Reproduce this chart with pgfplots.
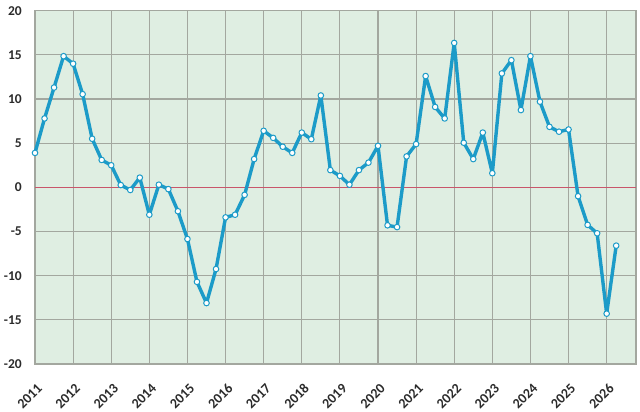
\documentclass[border=0pt]{standalone}
\usepackage{pgfplots}
\pgfplotsset{compat=1.18}
\usepackage{fontspec}
\setmainfont{Carlito}

\definecolor{bgGreen}{HTML}{DFEEE2}
\definecolor{gridGray}{HTML}{A3A79F}
\definecolor{lineBlue}{HTML}{1C9BC8}
\definecolor{zeroRed}{HTML}{C9566B}
\definecolor{labelGray}{HTML}{2B2B2B}

\begin{document}
\begin{tikzpicture}[x=1pt,y=1pt]
\useasboundingbox (0,0) rectangle (640,412);
\begin{axis}[
    at={(35pt,48pt)}, anchor=south west,
    scale only axis,
    width=601pt, height=353.3pt,
    xmin=2011, xmax=2026.77,
    ymin=-20, ymax=20,
    xtick={2011,2012,...,2026},
    ytick={-20,-15,...,20},
    xticklabel style={/pgf/number format/1000 sep={}, rotate=45, anchor=north east,
        font=\fontsize{14}{16}\selectfont\bfseries, text=labelGray, inner sep=0pt, xshift=-12pt, yshift=-14pt},
    yticklabel style={font=\fontsize{13.5}{15}\selectfont\bfseries, text=labelGray, inner sep=0pt, xshift=-13pt},
    /pgf/number format/assume math mode=true,
    major tick length=0pt,
    grid=major,
    grid style={gridGray, line width=1.1pt},
    axis line style={gridGray, line width=1.1pt},
    axis background/.style={fill=bgGreen},
    clip=false,
]
\draw[zeroRed, line width=0.8pt] (axis cs:2011,0) -- (axis cs:2026.77,0);
\addplot[lineBlue, line width=3.4pt, line join=round,
    mark=*, mark size=2.8pt, mark options={fill=white, draw=lineBlue, line width=1pt}]
  coordinates {
    (2011.00,3.9) (2011.25,7.8) (2011.50,11.3) (2011.75,14.85)
    (2012.00,14.0) (2012.25,10.55) (2012.50,5.5) (2012.75,3.1)
    (2013.00,2.5) (2013.25,0.26) (2013.50,-0.3) (2013.75,1.1)
    (2014.00,-3.1) (2014.25,0.3) (2014.50,-0.2) (2014.75,-2.7)
    (2015.00,-5.85) (2015.25,-10.7) (2015.50,-13.1) (2015.75,-9.25)
    (2016.00,-3.4) (2016.25,-3.1) (2016.50,-0.85) (2016.75,3.2)
    (2017.00,6.4) (2017.25,5.6) (2017.50,4.6) (2017.75,3.9)
    (2018.00,6.2) (2018.25,5.45) (2018.50,10.4) (2018.75,1.95)
    (2019.00,1.3) (2019.25,0.3) (2019.50,1.95) (2019.75,2.8)
    (2020.00,4.7) (2020.25,-4.3) (2020.50,-4.5) (2020.75,3.5)
    (2021.00,4.9) (2021.25,12.6) (2021.50,9.1) (2021.75,7.8)
    (2022.00,16.35) (2022.25,5.05) (2022.50,3.2) (2022.75,6.2)
    (2023.00,1.6) (2023.25,12.9) (2023.50,14.4) (2023.75,8.75)
    (2024.00,14.85) (2024.25,9.7) (2024.50,6.85) (2024.75,6.3)
    (2025.00,6.55) (2025.25,-1.0) (2025.50,-4.25) (2025.75,-5.2)
    (2026.00,-14.3) (2026.25,-6.6)
  };
\end{axis}
\end{tikzpicture}
\end{document}
